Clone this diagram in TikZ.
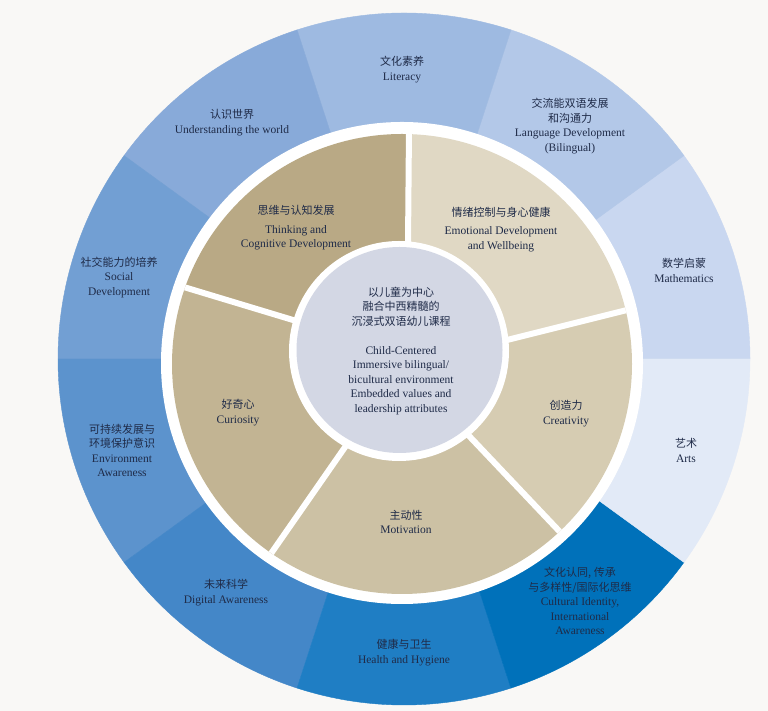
\documentclass[tikz,border=0pt]{standalone}
\usepackage{fontspec}
\setmainfont{Liberation Serif}
\newfontfamily\cjkfont{Noto Sans CJK SC}
\usetikzlibrary{calc}

\newcommand\zh[1]{{\cjkfont\fontsize{11}{14.5}\selectfont #1}}

\definecolor{bg}{HTML}{F9F8F6}
\definecolor{ink}{HTML}{1F2B48}
\definecolor{cmath}{HTML}{C9D7F0}
\definecolor{clang}{HTML}{B3C8E8}
\definecolor{clit}{HTML}{9EBAE1}
\definecolor{cworld}{HTML}{88AAD9}
\definecolor{csocial}{HTML}{729FD3}
\definecolor{cenv}{HTML}{5C93CD}
\definecolor{cdigital}{HTML}{4487C8}
\definecolor{chealth}{HTML}{1F7EC4}
\definecolor{cculture}{HTML}{0071BA}
\definecolor{carts}{HTML}{E2EAF7}
\definecolor{cthink}{HTML}{B9A985}
\definecolor{cemo}{HTML}{E0D8C4}
\definecolor{ccrea}{HTML}{D6CCB2}
\definecolor{cmoti}{HTML}{CCC1A4}
\definecolor{ccuri}{HTML}{C2B493}
\definecolor{ccore}{HTML}{D3D7E4}

\begin{document}
\begin{tikzpicture}[x=1pt,y=1pt,
  seg/.style={align=center,text=ink,font=\fontsize{11.5}{14.5}\selectfont},
  gap/.style={draw=white,line width=6pt}]
\useasboundingbox (0,0) rectangle (768,711);
\fill[bg] (0,0) rectangle (768,711);

% outer ring
\coordinate (O) at (404,352);
\foreach \a/\c in {0/cmath,36/clang,72/clit,108/cworld,144/csocial,180/cenv,216/cdigital,252/chealth,288/cculture,324/carts}
  \filldraw[fill=\c,draw=\c,line width=0.4pt] (O) -- ++(\a:346pt) arc[start angle=\a,delta angle=36,radius=346pt] -- cycle;
\fill[white] (402,348) circle[radius=241pt];

% inner ring, dividers from measured ends
\coordinate (B) at (402,347);
\coordinate (C) at (400,358);
\coordinate (P1) at (408,466); \coordinate (Q1) at (409,583);
\coordinate (P2) at (507,371); \coordinate (Q2) at (627,401);
\coordinate (P3) at (471,273); \coordinate (Q3) at (561,178);
\coordinate (P4) at (343,261); \coordinate (Q4) at (270,156);
\coordinate (P5) at (293,391); \coordinate (Q5) at (187,423);
\foreach \i in {1,...,5} {
  \coordinate (F\i) at ($(P\i)!3!(Q\i)$);
  \coordinate (G\i) at ($(Q\i)!1.15!(P\i)$);
}
\begin{scope}
\clip (B) circle[radius=230pt];
\fill[cemo] (C) -- (G1) -- (F1) -- ($(B)+(50:700pt)$) -- (F2) -- (G2) -- cycle;
\fill[ccrea] (C) -- (G2) -- (F2) -- ($(B)+(-17:700pt)$) -- (F3) -- (G3) -- cycle;
\fill[cmoti] (C) -- (G3) -- (F3) -- ($(B)+(-86:700pt)$) -- (F4) -- (G4) -- cycle;
\fill[ccuri] (C) -- (G4) -- (F4) -- ($(B)+(198:700pt)$) -- (F5) -- (G5) -- cycle;
\fill[cthink] (C) -- (G5) -- (F5) -- ($(B)+(124:700pt)$) -- (F1) -- (G1) -- cycle;
\foreach \i in {1,...,5} \draw[gap] (G\i) -- (F\i);
\end{scope}

% centre
\fill[white] (399,360) circle[radius=110pt];
\fill[ccore] (399.5,361) circle[radius=103pt];

% outer labels
\node[seg] (lit) at (402,641.5) {\zh{文化素养}\\Literacy};
\node[seg] (lang) at (570,585) {\zh{交流能双语发展}\\\zh{和沟通力}\\Language Development\\(Bilingual)};
\node[seg] (math) at (684,440.5) {\zh{数学启蒙}\\Mathematics};
\node[seg] (arts) at (686,260.5) {\zh{艺术}\\Arts};
\node[seg] (culture) at (580,110) {\zh{文化认同, 传承}\\\zh{与多样性/国际化思维}\\Cultural Identity,\\International\\Awareness};
\node[seg] (health) at (404,58.5) {\zh{健康与卫生}\\Health and Hygiene};
\node[seg] (digital) at (226,118.5) {\zh{未来科学}\\Digital Awareness};
\node[seg] (env) at (122,260.5) {\zh{可持续发展与}\\\zh{环境保护意识}\\Environment\\Awareness};
\node[seg] (social) at (119,433.5) {\zh{社交能力的培养}\\Social\\Development};
\node[seg] (world) at (232,588.5) {\zh{认识世界}\\Understanding the world};

% inner labels
\node[seg] (think) at (296,483) {\zh{思维与认知发展}\\[4pt]Thinking and\\Cognitive Development};
\node[seg] (emo) at (501,481.5) {\zh{情绪控制与身心健康}\\[4pt]Emotional Development\\and Wellbeing};
\node[seg] (crea) at (566,297.5) {\zh{创造力}\\Creativity};
\node[seg] (moti) at (406,189) {\zh{主动性}\\Motivation};
\node[seg] (curi) at (238,298.5) {\zh{好奇心}\\Curiosity};

% core
\node[seg] (core) at (401,360) {\zh{以儿童为中心}\\\zh{融合中西精髓的}\\\zh{沉浸式双语幼儿课程}\\[14.5pt]Child-Centered\\Immersive bilingual/\\bicultural environment\\Embedded values and\\leadership attributes};
\end{tikzpicture}
\end{document}
